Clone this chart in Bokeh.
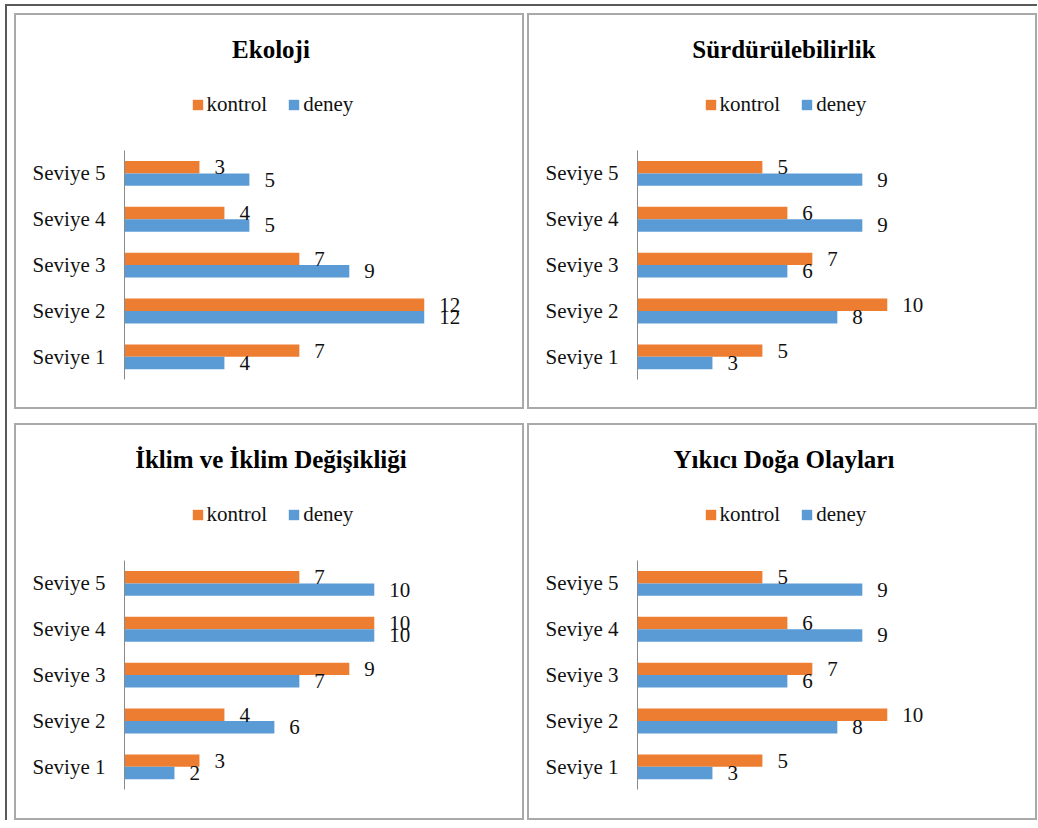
from bokeh.plotting import figure
from bokeh.models import Range1d, FixedTicker, Label, Legend, LegendItem, ColumnDataSource
from bokeh.layouts import row, column
from bokeh.transform import dodge
from bokeh.core.properties import value
from bokeh.embed import file_html
from bokeh.resources import INLINE

# ---------------- data ----------------
levels = ["Seviye 1", "Seviye 2", "Seviye 3", "Seviye 4", "Seviye 5"]
series_names = ["kontrol", "deney"]
titles = ["Ekoloji", "Sürdürülebilirlik", "İklim ve İklim Değişikliği", "Yıkıcı Doğa Olayları"]

ekoloji_kontrol = [7, 12, 7, 4, 3]
ekoloji_deney = [4, 12, 9, 5, 5]
surdurulebilirlik_kontrol = [5, 10, 7, 6, 5]
surdurulebilirlik_deney = [3, 8, 6, 9, 9]
iklim_kontrol = [3, 4, 9, 10, 7]
iklim_deney = [2, 6, 7, 10, 10]
yikici_kontrol = [5, 10, 7, 6, 5]
yikici_deney = [3, 8, 6, 9, 9]

# ---------------- style / layout ----------------
ORANGE = "#ED7D31"
BLUE = "#5B9BD5"
FONT = "Liberation Serif"
PX_PER_UNIT = 24.73     # px per value unit
PX_PER_CAT = 45.4       # px per category band
AXIS_LEFT = 108         # px from canvas left to axis line
BAND_TOP = 133.6        # px from canvas top to top of category band
BORDER = 2
TITLE_Y = 33.5          # canvas px, title centre
LEGEND_Y = 87.0         # canvas px, legend centre
LEGEND_W = 157
LEGEND_H = 22
BAR_H = 0.271
BAR_OFF = 0.1355


def make_panel(title, kontrol, deney, outer_w, outer_h):
    w = outer_w - 2 * BORDER
    h = outer_h - 2 * BORDER
    n = len(levels)
    frame_w = w - AXIS_LEFT
    y_end = n + BAND_TOP / PX_PER_CAT
    y_start = -(h - BAND_TOP - n * PX_PER_CAT) / PX_PER_CAT
    p = figure(width=outer_w, height=outer_h,
               x_range=Range1d(0, frame_w / PX_PER_UNIT),
               y_range=Range1d(y_start, y_end),
               toolbar_location=None, output_backend="svg",
               x_axis_location=None,
               min_border_left=AXIS_LEFT, min_border_right=0,
               min_border_top=0, min_border_bottom=0,
               outline_line_color=None,
               background_fill_color="white", border_fill_color="white",
               styles={"border": f"{BORDER}px solid #a9a9a9"})
    p.xgrid.visible = False
    p.ygrid.visible = False

    pos = [i + 0.5 for i in range(n)]
    src = ColumnDataSource(dict(
        pos=pos, kontrol=kontrol, deney=deney,
        klab=[str(v) for v in kontrol], dlab=[str(v) for v in deney]))

    rk = p.hbar(y=dodge("pos", BAR_OFF, range=p.y_range), left=0, right="kontrol",
                height=BAR_H, source=src, fill_color=ORANGE, line_color=None)
    rd = p.hbar(y=dodge("pos", -BAR_OFF, range=p.y_range), left=0, right="deney",
                height=BAR_H, source=src, fill_color=BLUE, line_color=None)

    for col, xcol, off in (("klab", "kontrol", BAR_OFF), ("dlab", "deney", -BAR_OFF)):
        p.text(x=xcol, y=dodge("pos", off, range=p.y_range), text=col, source=src,
               x_offset=15, text_align="left", text_baseline="middle",
               text_font=value(FONT), text_font_size="21px", text_color="#111111")

    ax = p.yaxis[0]
    ax.ticker = FixedTicker(ticks=pos)
    ax.major_label_overrides = {pos[i]: levels[i] for i in range(n)}
    ax.bounds = (0, n)
    ax.major_tick_out = 0
    ax.major_tick_in = 0
    ax.minor_tick_out = 0
    ax.minor_tick_in = 0
    ax.major_label_standoff = 19
    ax.axis_line_color = "#8a8a8a"
    ax.axis_line_width = 1
    ax.major_label_text_font = FONT
    ax.major_label_text_font_size = "21px"
    ax.major_label_text_color = "#111111"

    p.add_layout(Label(x=(w / 2 - AXIS_LEFT) / PX_PER_UNIT,
                       y=y_end - TITLE_Y / PX_PER_CAT,
                       text=title, text_align="center", text_baseline="middle",
                       text_font=FONT, text_font_size="25px", text_font_style="bold",
                       text_color="black"))

    legend = Legend(items=[LegendItem(label=series_names[0], renderers=[rk]),
                           LegendItem(label=series_names[1], renderers=[rd])],
                    orientation="horizontal",
                    location=(w / 2 - LEGEND_W / 2 - AXIS_LEFT, h - LEGEND_Y - LEGEND_H / 2),
                    glyph_width=13, glyph_height=13, label_standoff=3, spacing=20,
                    padding=0, margin=0, border_line_color=None,
                    background_fill_alpha=0, label_height=LEGEND_H,
                    label_text_font=FONT, label_text_font_size="21px",
                    label_text_color="#111111")
    p.add_layout(legend)
    return p


p1 = make_panel(titles[0], ekoloji_kontrol, ekoloji_deney, 510, 396)
p2 = make_panel(titles[1], surdurulebilirlik_kontrol, surdurulebilirlik_deney, 510, 396)
p3 = make_panel(titles[2], iklim_kontrol, iklim_deney, 510, 397)
p4 = make_panel(titles[3], yikici_kontrol, yikici_deney, 510, 397)

layout = column(row(p1, p2, spacing=3), row(p3, p4, spacing=3), spacing=14,
                styles={"margin": "4px 0 0 5px",
                        "border-top": "2px solid #5a5a5a", "border-left": "2px solid #5a5a5a",
                        "padding": "7px 0 0 7px"})

open("out.html", "w").write(file_html(layout, INLINE))
